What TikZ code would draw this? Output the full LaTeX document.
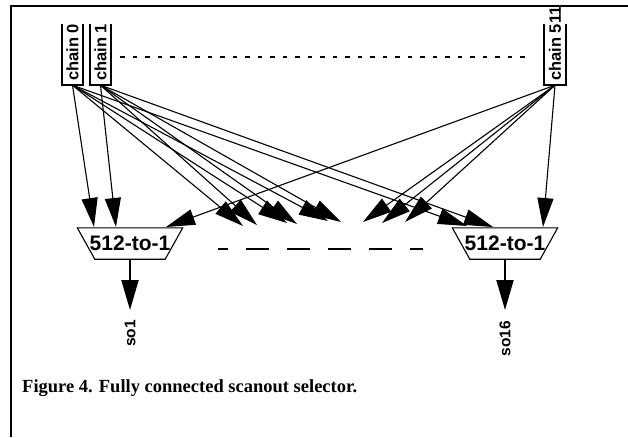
\documentclass[tikz,border=0pt]{standalone}
\usepackage{fontspec}
\setmainfont{Liberation Serif}
\setsansfont{Liberation Sans}
\usetikzlibrary{arrows.meta,calc}
\begin{document}
\begin{tikzpicture}[x=1pt,y=-1pt,
  chainbox/.style={minimum width=21pt, minimum height=61pt, inner sep=0pt},
  boxline/.style={line width=1.8pt, line join=miter},
  chainlbl/.style={font=\sffamily\bfseries\fontsize{16.5}{16.5}\selectfont, inner sep=0pt, rotate=90, anchor=west},
  outlbl/.style={font=\sffamily\bfseries\fontsize{15.5}{15.5}\selectfont, inner sep=0pt, rotate=90, anchor=east},
  muxbox/.style={minimum width=105pt, minimum height=31pt, inner sep=0pt,
    font=\sffamily\bfseries\fontsize{21}{21}\selectfont},
  muxline/.style={line width=1.1pt, line join=miter},
  fan/.style={line width=1.1pt, -{Triangle[length=29pt,width=16pt]}},
  outarrow/.style={line width=2pt, -{Triangle[length=30pt,width=17pt]}},
  dotted row/.style={line width=1.3pt, dash pattern=on 4.5pt off 8pt},
  mux gap/.style={line width=2pt, dash pattern=on 23pt off 18pt, dash phase=13pt}
]
\useasboundingbox (0,0) rectangle (628,437);

% outer frame
\draw[line width=2pt, line join=miter] (11,437) -- (11,6) -- (628,6);

% scan chains (boxes open at the top)
\node[chainbox] (c0) at (72.5,54.5) {};
\node[chainbox] (c1) at (100.5,54.5) {};
\node[chainbox] (c511) at (555,54.5) {};
\foreach \c in {c0,c1,c511}
  \draw[boxline] (\c.north west) -- (\c.south west) -- (\c.south east) -- (\c.north east);
\node[chainlbl] (t0) at (72.5,81) {chain 0};
\node[chainlbl] (t1) at (100.5,81) {chain 1};
\node[chainlbl] (t511) at (555,81) {chain 511};

% row of omitted chains
\coordinate (rowl) at (120,57);
\coordinate (rowr) at (528,57);
\draw[dotted row] (rowl) -- (rowr);

% selectors
\node[muxbox] (m1) at (130,243.5) {512-to-1};
\node[muxbox] (m16) at (505,243.5) {512-to-1};
\foreach \m in {m1,m16}
  \draw[muxline] (\m.north west) -- (\m.north east) -- ([xshift=-17.5pt]\m.south east)
    -- ([xshift=17.5pt]\m.south west) -- cycle;

% omitted selectors
\coordinate (gapl) at (218,249);
\coordinate (gapr) at (423,249);
\draw[mux gap] (gapl) -- (gapr);

% selector inputs
\coordinate (a1) at (94,227);   \coordinate (b1) at (116,227);  \coordinate (z1) at (166,227);
\coordinate (a2) at (243,226);  \coordinate (b2) at (257,225);
\coordinate (a3) at (287,223);  \coordinate (b3) at (297,224);
\coordinate (a4) at (328,221);  \coordinate (b4) at (341,222);
\coordinate (z2) at (363,222);  \coordinate (z3) at (382,223);  \coordinate (z4) at (405,222);
\coordinate (a16) at (467,226); \coordinate (b16) at (493,227); \coordinate (z16) at (543,227);

\foreach \t in {a1,a2,a3,a4,a16} \draw[fan] (c0.south) -- (\t);
\foreach \t in {b1,b2,b3,b4,b16} \draw[fan] (c1.south) -- (\t);
\foreach \t in {z1,z2,z3,z4,z16} \draw[fan] (c511.south) -- (\t);

% outputs
\coordinate (o1) at (130,310);
\coordinate (o16) at (505,310);
\draw[outarrow] (m1.south) -- (o1);
\draw[outarrow] (m16.south) -- (o16);
\node[outlbl] (so1) at (130,320) {so1};
\node[outlbl] (so16) at (505,321) {so16};

% caption
\node[anchor=base west, inner sep=0pt, font=\rmfamily\bfseries\fontsize{18.5}{20}\selectfont] (cap)
  at (22,392) {Figure 4. Fully connected scanout selector.};
\end{tikzpicture}
\end{document}
